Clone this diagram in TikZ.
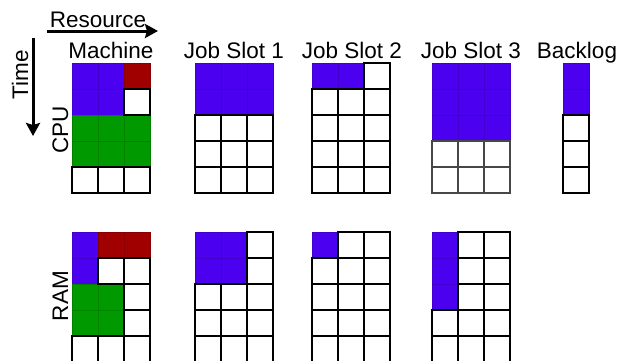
\documentclass[tikz,border=0pt]{standalone}
\usepackage{fontspec}
\setmainfont{Liberation Sans}
\usetikzlibrary{arrows.meta}
\definecolor{jobblue}{RGB}{76,0,240}
\definecolor{jobred}{RGB}{160,0,0}
\definecolor{jobgreen}{RGB}{0,153,0}
\tikzset{
  lbl/.style={font=\fontsize{22.5}{27}\selectfont, inner sep=0pt, text=black},
  bigarrow/.style={line width=3pt,-{Stealth[length=13pt,width=14pt,inset=2pt]}},
  aW/.style={}, aV/.style={},
  aB/.style={fill=jobblue, draw=jobblue!85!black, line width=0.6pt},
  aR/.style={fill=jobred, draw=jobred!85!black, line width=0.6pt},
  aG/.style={fill=jobgreen, draw=jobgreen!85!black, line width=0.6pt},
  bB/.style={}, bR/.style={}, bG/.style={},
  bW/.style={draw=black, line width=1.5pt},
  bV/.style={draw=black!72, line width=1.3pt},
}
\newcommand\cellgrid[3]{%
  \foreach[count=\r from 0] \row in {#3} {%
    \foreach[count=\c from 0] \k in \row {%
      \path[a\k] ({#1+26*\c},{#2+26*\r}) rectangle ++(26,26);}}%
  \foreach[count=\r from 0] \row in {#3} {%
    \foreach[count=\c from 0] \k in \row {%
      \path[b\k] ({#1+26*\c},{#2+26*\r}) rectangle ++(26,26);}}%
}
\begin{document}
\begin{tikzpicture}[x=1pt,y=-1pt]
\useasboundingbox (0,0) rectangle (633,360);
\clip (0,0) rectangle (633,360);
\fill[white] (0,0) rectangle (633,360);
% labels
\node[lbl, anchor=base] (res) at (98,27) {Resource};
\coordinate (rs) at (47,31);
\coordinate (re) at (158,31);
\draw[bigarrow] (rs) -- (re);
\node[lbl, anchor=base, rotate=90] (time) at (28,75) {Time};
\coordinate (ts) at (33,38);
\coordinate (te) at (33,136);
\draw[bigarrow] (ts) -- (te);
\node[lbl, anchor=base] (machine) at (111,58) {Machine};
\node[lbl, anchor=base] (js1) at (234,58) {Job Slot 1};
\node[lbl, anchor=base] (js2) at (352,58) {Job Slot 2};
\node[lbl, anchor=base] (js3) at (471,58) {Job Slot 3};
\node[lbl, anchor=base] (backlog) at (577,58) {Backlog};
\node[lbl, anchor=base, rotate=90] (cpu) at (68,130) {CPU};
\node[lbl, anchor=base, rotate=90] (ram) at (68,296) {RAM};
% CPU grids
\cellgrid{72}{63}{{B,B,R},{B,B,W},{G,G,G},{G,G,G},{W,W,W}}
\cellgrid{195}{63}{{B,B,B},{B,B,B},{W,W,W},{W,W,W},{W,W,W}}
\cellgrid{312}{63}{{B,B,W},{W,W,W},{W,W,W},{W,W,W},{W,W,W}}
\cellgrid{432}{63}{{B,B,B},{B,B,B},{B,B,B},{V,V,V},{V,V,V}}
\cellgrid{563}{63}{{B},{B},{W},{W},{W}}
% RAM grids
\cellgrid{72}{232}{{B,R,R},{B,W,W},{G,G,W},{G,G,W},{W,W,W}}
\cellgrid{195}{232}{{B,B,W},{B,B,W},{W,W,W},{W,W,W},{W,W,W}}
\cellgrid{312}{232}{{B,W,W},{W,W,W},{W,W,W},{W,W,W},{W,W,W}}
\cellgrid{432}{232}{{B,W,W},{B,W,W},{B,W,W},{W,W,W},{W,W,W}}
\end{tikzpicture}
\end{document}
